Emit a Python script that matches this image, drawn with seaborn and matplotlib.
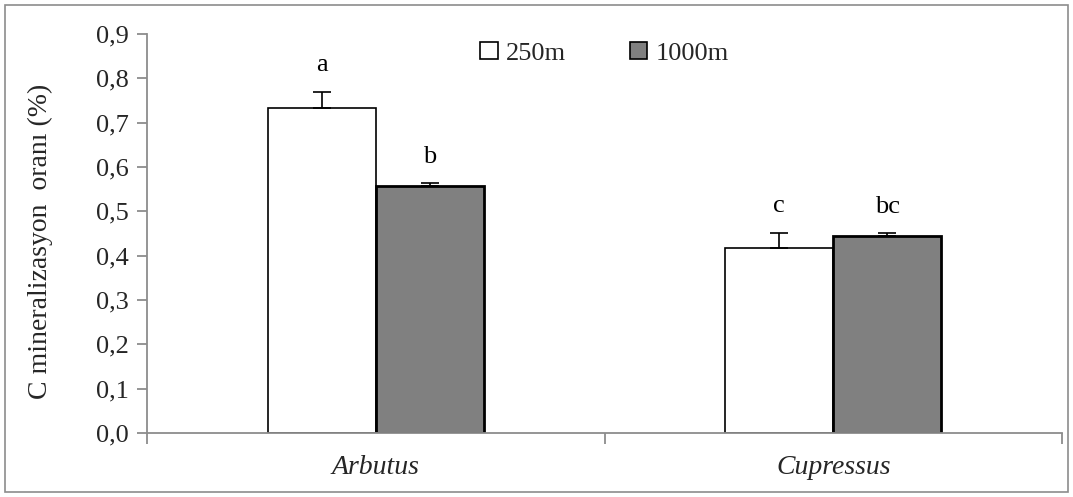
import matplotlib
matplotlib.use("Agg")
import matplotlib.pyplot as plt
from matplotlib.patches import Rectangle
from matplotlib.ticker import FuncFormatter
import seaborn as sns
import pandas as pd

species = ["Arbutus", "Cupressus"]
altitudes = ["250m", "1000m"]
values_250 = [0.733, 0.417]
values_1000 = [0.557, 0.444]
err_250 = [0.037, 0.035]
err_1000 = [0.006, 0.006]
letters_250 = ["a", "c"]
letters_1000 = ["b", "bc"]
colors = {"250m": "#ffffff", "1000m": "#808080"}

df = pd.DataFrame({
    "species": species * 2,
    "alt": [altitudes[0]] * 2 + [altitudes[1]] * 2,
    "val": values_250 + values_1000,
})

sns.set_style("white")
plt.rcParams["font.family"] = ["Liberation Serif", "DejaVu Serif"]

fig = plt.figure(figsize=(10.73, 4.97), dpi=100)
fig.patches.append(Rectangle((5 / 1073, 5 / 497), 1063 / 1073, 487 / 497,
                             transform=fig.transFigure, fill=False,
                             edgecolor="#8c8c8c", linewidth=1.2))
ax = fig.add_axes([147 / 1073, 1 - 433 / 497, (1062 - 147) / 1073, (433 - 34) / 497])

sns.barplot(data=df, x="species", y="val", hue="alt", hue_order=altitudes,
            palette=colors, width=0.472, errorbar=None, ax=ax,
            edgecolor="black", linewidth=1.2, saturation=1)

errs = [err_250, err_1000]
lets = [letters_250, letters_1000]
bar_containers = list(ax.containers)[:2]
for ci, cont in enumerate(bar_containers):
    for bi, bar in enumerate(cont.patches):
        x = bar.get_x() + bar.get_width() / 2
        h = bar.get_height()
        e = errs[ci][bi]
        ax.errorbar([x], [h], yerr=[[0], [e]], fmt="none", ecolor="black",
                    elinewidth=1.2, capsize=6.5, capthick=1.2, zorder=1)
        ax.text(x, h + e + 0.035, lets[ci][bi], ha="center", va="bottom",
                fontsize=19, color="black")
        if ci == 1:
            bar.set_linewidth(2.0)

ax.set_xlim(-0.5, 1.5)
ax.set_ylim(0, 0.9)
ax.set_yticks([i / 10 for i in range(10)])
ax.yaxis.set_major_formatter(FuncFormatter(lambda v, p: f"{v:.1f}".replace(".", ",")))
ax.set_xticks([0, 1])
ax.set_xticklabels(species, fontstyle="italic", fontsize=20)
ax.set_xticks([-0.5, 0.5, 1.5], minor=True)
ax.tick_params(axis="x", which="major", length=0, pad=16)
ax.tick_params(axis="x", which="minor", bottom=True, length=8, direction="out",
               color="#8c8c8c", width=1.3)
ax.tick_params(axis="y", left=True, length=7, direction="out", color="#8c8c8c", width=1.3,
               labelsize=19, pad=6)
ax.set_xlabel("")
ax.set_ylabel("C mineralizasyon  oranı (%)", fontsize=20)
ax.yaxis.set_label_coords(-0.103, 0.48)

for s in ["top", "right"]:
    ax.spines[s].set_visible(False)
for s in ["left", "bottom"]:
    ax.spines[s].set_color("#8c8c8c")
    ax.spines[s].set_linewidth(1.3)

ax.legend(loc="upper center", bbox_to_anchor=(0.5, 1.04), ncol=2, frameon=False,
          fontsize=19, handlelength=0.65, handleheight=0.65, handletextpad=0.3,
          columnspacing=2.45)

fig.savefig("out.png", dpi=100)
